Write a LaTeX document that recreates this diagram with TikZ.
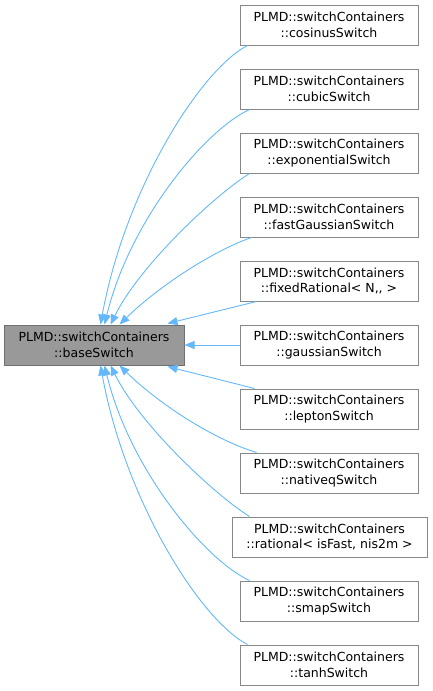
\documentclass[tikz,border=0pt]{standalone}
\usepackage{fontspec}
\setmainfont{DejaVu Sans}
\usetikzlibrary{arrows.meta,calc}
\definecolor{edgeblue}{HTML}{63B8FF}
\definecolor{boxborder}{HTML}{888888}
\definecolor{baseborder}{HTML}{707070}
\definecolor{basefill}{HTML}{999999}
\begin{document}
\begin{tikzpicture}[x=1pt,y=-1pt,
  cls/.style={draw=boxborder,line width=1pt,fill=white,minimum width=178pt,minimum height=40pt,
    inner sep=0pt,align=center,font=\fontsize{12.5}{15.5}\selectfont},
  basecls/.style={cls,draw=baseborder,fill=basefill,minimum width=180pt},
  edge/.style={draw=edgeblue,line width=0.9pt,-{Triangle[length=10pt,width=8pt,fill=edgeblue]}}]
\useasboundingbox (0,0) rectangle (432,691);
\node[basecls] (base) at (94,345) {PLMD::switchContainers\\::baseSwitch};
\node[cls] (cos) at (329,25) {PLMD::switchContainers\\::cosinusSwitch};
\node[cls] (cub) at (329,89) {PLMD::switchContainers\\::cubicSwitch};
\node[cls] (exp) at (329,153) {PLMD::switchContainers\\::exponentialSwitch};
\node[cls] (fg) at (329,217) {PLMD::switchContainers\\::fastGaussianSwitch};
\node[cls] (fr) at (329,281) {PLMD::switchContainers\\::fixedRational< N,{},{} >};
\node[cls] (ga) at (329,345) {PLMD::switchContainers\\::gaussianSwitch};
\node[cls] (le) at (329,409) {PLMD::switchContainers\\::leptonSwitch};
\node[cls] (na) at (329,473) {PLMD::switchContainers\\::nativeqSwitch};
\node[cls,minimum width=195pt] (ra) at (329.5,537) {PLMD::switchContainers\\::rational< isFast, nis2m >};
\node[cls] (sm) at (329,601) {PLMD::switchContainers\\::smapSwitch};
\node[cls] (ta) at (329,665) {PLMD::switchContainers\\::tanhSwitch};
% upper edges
\draw[edge] ($(cos.south west)+(8,0)$) .. controls (200,70) and (125,190) .. ($(base.north west)+(97,0)$);
\draw[edge] ($(cub.south west)+(10,0)$) .. controls (205,130) and (130,220) .. ($(base.north west)+(101,0)$);
\draw[edge] ($(exp.south west)+(10,0)$) .. controls (215,195) and (140,265) .. ($(base.north west)+(107,0)$);
\draw[edge] ($(fg.south west)+(12,0)$) .. controls (215,250) and (160,285) .. ($(base.north west)+(116,0)$);
\draw[edge] ($(fr.south west)+(17,0)$) -- ($(base.north west)+(164,-1)$);
\draw[edge] (ga.west) -- (base.east);
\draw[edge] ($(le.north west)+(15,0)$) -- ($(base.south west)+(164,1)$);
\draw[edge] ($(na.north west)+(17,0)$) .. controls (215,440) and (160,405) .. ($(base.south west)+(116,0)$);
\draw[edge] ($(ra.north west)+(18,0)$) .. controls (215,495) and (140,425) .. ($(base.south west)+(107,0)$);
\draw[edge] ($(sm.north west)+(10,0)$) .. controls (205,560) and (130,470) .. ($(base.south west)+(101,0)$);
\draw[edge] ($(ta.north west)+(8,0)$) .. controls (200,620) and (125,500) .. ($(base.south west)+(97,0)$);
\end{tikzpicture}
\end{document}
